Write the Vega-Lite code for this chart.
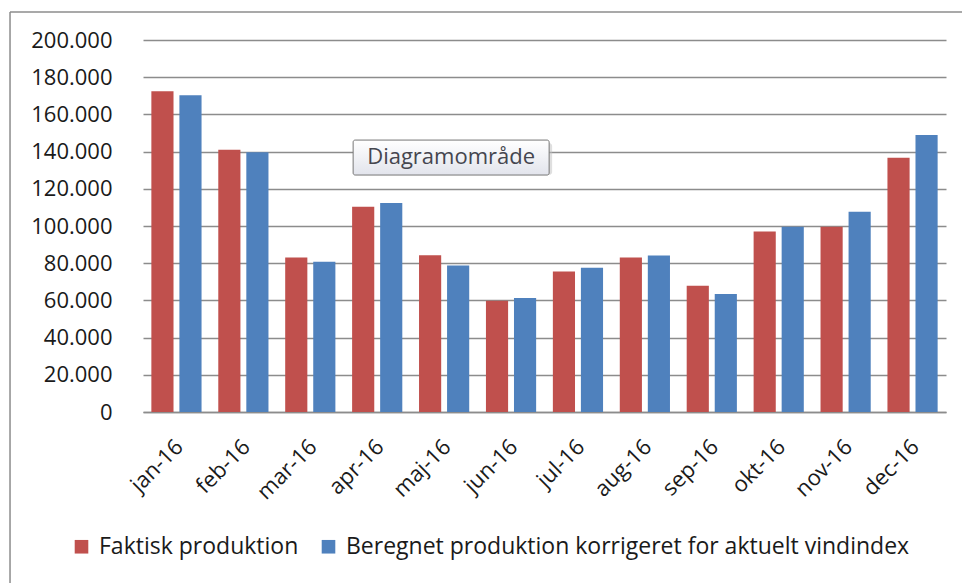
{
  "$schema": "https://vega.github.io/schema/vega-lite/v6.json",
  "autosize": {"type": "none"},
  "width": 803,
  "height": 372,
  "padding": {"left": 143, "top": 40, "right": 16, "bottom": 171},
  "background": "white",
  "datasets": {
    "prod": [
      {"month": "jan-16", "serie": "Faktisk produktion", "value": 172400},
      {"month": "jan-16", "serie": "Beregnet produktion korrigeret for aktuelt vindindex", "value": 170300},
      {"month": "feb-16", "serie": "Faktisk produktion", "value": 141000},
      {"month": "feb-16", "serie": "Beregnet produktion korrigeret for aktuelt vindindex", "value": 139600},
      {"month": "mar-16", "serie": "Faktisk produktion", "value": 83000},
      {"month": "mar-16", "serie": "Beregnet produktion korrigeret for aktuelt vindindex", "value": 80800},
      {"month": "apr-16", "serie": "Faktisk produktion", "value": 110300},
      {"month": "apr-16", "serie": "Beregnet produktion korrigeret for aktuelt vindindex", "value": 112300},
      {"month": "maj-16", "serie": "Faktisk produktion", "value": 84300},
      {"month": "maj-16", "serie": "Beregnet produktion korrigeret for aktuelt vindindex", "value": 78700},
      {"month": "jun-16", "serie": "Faktisk produktion", "value": 59800},
      {"month": "jun-16", "serie": "Beregnet produktion korrigeret for aktuelt vindindex", "value": 61300},
      {"month": "jul-16", "serie": "Faktisk produktion", "value": 75600},
      {"month": "jul-16", "serie": "Beregnet produktion korrigeret for aktuelt vindindex", "value": 77600},
      {"month": "aug-16", "serie": "Faktisk produktion", "value": 83000},
      {"month": "aug-16", "serie": "Beregnet produktion korrigeret for aktuelt vindindex", "value": 84100},
      {"month": "sep-16", "serie": "Faktisk produktion", "value": 67900},
      {"month": "sep-16", "serie": "Beregnet produktion korrigeret for aktuelt vindindex", "value": 63400},
      {"month": "okt-16", "serie": "Faktisk produktion", "value": 97100},
      {"month": "okt-16", "serie": "Beregnet produktion korrigeret for aktuelt vindindex", "value": 99600},
      {"month": "nov-16", "serie": "Faktisk produktion", "value": 99600},
      {"month": "nov-16", "serie": "Beregnet produktion korrigeret for aktuelt vindindex", "value": 107700},
      {"month": "dec-16", "serie": "Faktisk produktion", "value": 136700},
      {"month": "dec-16", "serie": "Beregnet produktion korrigeret for aktuelt vindindex", "value": 148900}
    ],
    "tip": [
      {"month": "maj-16", "label": "Diagramområde", "value": 146200, "lo": 127400}
    ],
    "frame": [
      {"bx": -0.1656, "bx2": 1.1, "value": 215050, "lo": -110000}
    ]
  },
  "config": {
    "view": {"stroke": null},
    "font": "Open Sans"
  },
  "resolve": {"scale": {"x": "independent"}},
  "encoding": {
    "x": {
      "field": "month",
      "type": "nominal",
      "sort": null,
      "scale": {
        "domain": ["jan-16","feb-16","mar-16","apr-16","maj-16","jun-16","jul-16","aug-16","sep-16","okt-16","nov-16","dec-16"],
        "paddingInner": 0.25, "paddingOuter": 0.125
      },
      "axis": {
        "title": null,
        "labelAngle": -45,
        "labelAlign": "right",
        "labelBaseline": "middle",
        "labelFont": "Open Sans",
        "labelFontSize": 22,
        "labelColor": "#1a1a1a",
        "labelPadding": 31,
        "labelOffset": 3,
        "ticks": false,
        "domain": true,
        "domainColor": "#8c8c8c",
        "domainWidth": 1.5,
        "grid": false
      }
    },
    "y": {
      "field": "value",
      "type": "quantitative",
      "scale": {"domain": [0, 200000], "nice": false},
      "axis": {
        "title": null,
        "values": [0, 20000, 40000, 60000, 80000, 100000, 120000, 140000, 160000, 180000, 200000],
        "labelExpr": "replace(format(datum.value, ','), ',', '.')",
        "labelOverlap": false,
        "labelFont": "Open Sans",
        "labelFontSize": 22,
        "labelColor": "#1a1a1a",
        "labelPadding": 31,
        "ticks": false,
        "domain": false,
        "grid": true,
        "gridColor": "#8c8c8c",
        "gridWidth": 1.5
      }
    }
  },
  "layer": [
    {
      "data": {"name": "prod"},
      "layer": [
        {
          "mark": {"type": "bar"},
          "encoding": {
            "xOffset": {
              "field": "serie",
              "type": "nominal",
              "sort": ["Faktisk produktion", "Beregnet produktion korrigeret for aktuelt vindindex"],
              "scale": {"paddingInner": 0.21, "paddingOuter": 0}
            },
            "color": {
              "field": "serie",
              "type": "nominal",
              "scale": {
                "domain": ["Faktisk produktion", "Beregnet produktion korrigeret for aktuelt vindindex"],
                "range": ["#C0504D", "#4F81BD"]
              },
              "legend": {
                "title": null,
                "orient": "none",
                "legendX": -73,
                "legendY": 495,
                "direction": "horizontal",
                "symbolType": "M-1.7,-1.7h3.4v3.4h-3.4z",
                "symbolSize": 64,
                "symbolStrokeWidth": 0,
                "labelFont": "Open Sans",
                "labelFontSize": 23,
                "labelColor": "#1a1a1a",
                "labelLimit": 800,
                "columnPadding": 18,
                "labelOffset": 6
              }
            }
          }
        },
        {
          "data": {"name": "tip"},
          "mark": {"type": "bar", "width": 196, "xOffset": 10, "yOffset": 3, "fill": "#bfbfbf", "opacity": 0.5, "cornerRadius": 3},
          "encoding": {"y2": {"field": "lo"}}
        },
        {
          "data": {"name": "tip"},
          "mark": {
            "type": "bar",
            "width": 196,
            "xOffset": 7,
            "stroke": "#767676",
            "strokeWidth": 1,
            "cornerRadius": 2,
            "fill": {
              "x1": 0, "y1": 0, "x2": 0, "y2": 1,
              "gradient": "linear",
              "stops": [{"offset": 0, "color": "#ffffff"}, {"offset": 1, "color": "#e2e4ec"}]
            }
          },
          "encoding": {"y2": {"field": "lo"}}
        },
        {
          "data": {"name": "tip"},
          "mark": {"type": "text", "font": "Open Sans", "fontSize": 22, "color": "#45464f", "xOffset": 7, "dy": 17, "align": "center", "baseline": "middle"},
          "encoding": {
            "text": {"field": "label"}
          }
        }
      ]
    },
    {
      "data": {"name": "frame"},
      "encoding": {
        "x": {"field": "bx", "type": "quantitative", "scale": {"domain": [0, 1], "nice": false, "zero": false}, "axis": null}
      },
      "layer": [
        {
          "mark": {"type": "rule", "stroke": "#8c8c8c", "strokeWidth": 1.5},
          "encoding": {"x2": {"field": "bx2"}}
        },
        {
          "mark": {"type": "rule", "stroke": "#8c8c8c", "strokeWidth": 1.5},
          "encoding": {"y2": {"field": "lo"}}
        }
      ]
    }
  ]
}
